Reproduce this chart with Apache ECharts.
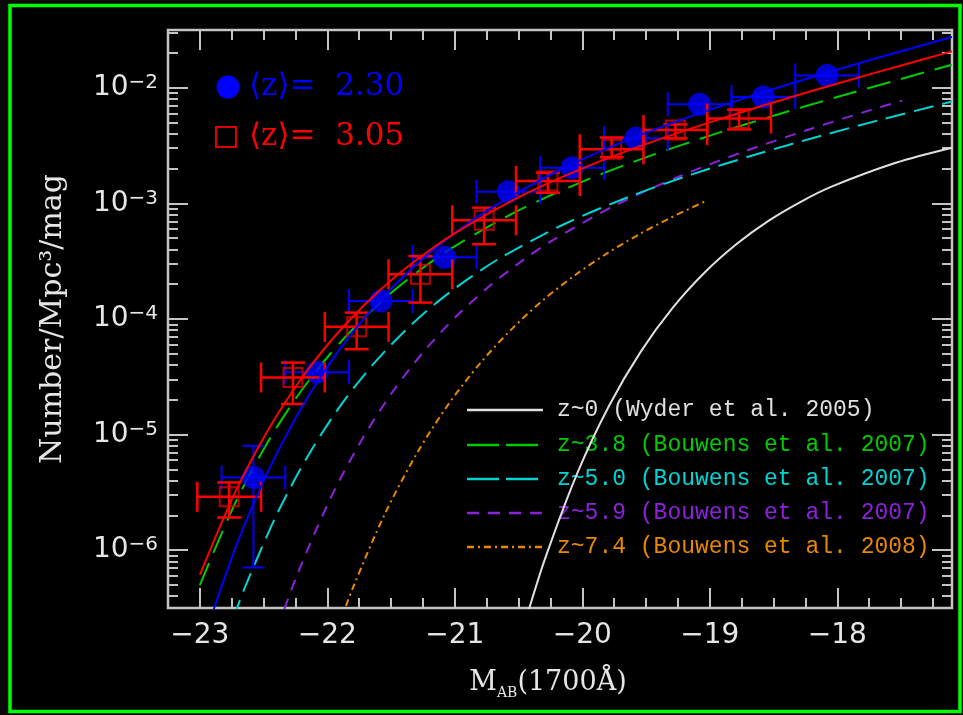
<!DOCTYPE html>
<html>
<head>
<meta charset="utf-8">
<script src="https://cdn.jsdelivr.net/npm/echarts@6/dist/echarts.min.js"></script>
<style>
html,body{margin:0;padding:0;background:#0b0907;}
#c{width:963px;height:715px;}
</style>
</head>
<body>
<div id="c"></div>
<script>
// ---------------- data ----------------
// <z> = 2.30 points : absolute magnitude, log10(phi), log10 y-error bounds
const blueM        = [-22.58, -22.08, -21.58, -21.08, -20.58, -20.08, -19.58, -19.08, -18.58, -18.08];
const blueLogPhi   = [-5.371, -4.460, -3.844, -3.466, -2.899, -2.691, -2.437, -2.143, -2.080, -1.893];
const blueLogLo    = [-6.149, -4.460, -3.844, -3.466, -2.899, -2.691, -2.437, -2.143, -2.080, -1.893];
const blueLogHi    = [-5.097, -4.460, -3.844, -3.466, -2.899, -2.691, -2.437, -2.143, -2.080, -1.893];
// <z> = 3.05 points
const redM         = [-22.77, -22.27, -21.77, -21.27, -20.77, -20.27, -19.77, -19.27, -18.77];
const redLogPhi    = [-5.538, -4.506, -4.068, -3.613, -3.146, -2.806, -2.532, -2.366, -2.266];
const redLogLo     = [-5.717, -4.736, -4.261, -3.858, -3.353, -2.908, -2.600, -2.437, -2.360];
const redLogHi     = [-5.414, -4.377, -3.945, -3.456, -3.037, -2.735, -2.430, -2.317, -2.190];
const magBinHalf   = 0.25;

// fitted luminosity-function curves
const redCurveM    = [-23.00, -22.72, -22.47, -22.22, -21.97, -21.72, -21.47, -21.22, -20.97, -20.47, -19.97, -19.47, -18.97, -18.47, -17.97, -17.47, -17.10];
const redCurveLog  = [-6.213, -5.491, -4.970, -4.541, -4.186, -3.889, -3.637, -3.423, -3.237, -2.931, -2.684, -2.474, -2.288, -2.116, -1.954, -1.798, -1.685];
const blueCurveM   = [-22.95, -22.70, -22.45, -22.20, -21.95, -21.70, -21.45, -21.20, -20.95, -20.70, -20.20, -19.70, -19.20, -18.70, -18.20, -17.70, -17.20, -17.10];
const blueCurveLog = [-6.703, -5.920, -5.284, -4.763, -4.334, -3.979, -3.682, -3.430, -3.216, -3.030, -2.724, -2.477, -2.267, -2.081, -1.909, -1.747, -1.591, -1.561];
const z38M         = [-23.00, -22.73, -22.48, -22.23, -21.98, -21.73, -21.48, -21.23, -20.98, -20.48, -19.98, -19.48, -18.98, -18.48, -17.98, -17.48, -17.10];
const z38Log       = [-6.303, -5.610, -5.089, -4.660, -4.305, -4.008, -3.756, -3.542, -3.356, -3.050, -2.803, -2.593, -2.407, -2.235, -2.073, -1.917, -1.801];
const z50M         = [-22.74, -22.64, -22.39, -22.14, -21.89, -21.64, -21.39, -21.14, -20.89, -20.64, -20.14, -19.64, -19.14, -18.64, -18.14, -17.64, -17.10];
const z50Log       = [-6.594, -6.304, -5.675, -5.161, -4.739, -4.391, -4.101, -3.856, -3.649, -3.470, -3.178, -2.945, -2.749, -2.577, -2.419, -2.271, -2.118];
const z59M         = [-22.39, -22.24, -21.99, -21.74, -21.49, -21.24, -20.99, -20.74, -20.49, -20.24, -19.74, -19.24, -18.74, -18.24, -17.74, -17.49];
const z59Log       = [-6.672, -6.222, -5.585, -5.063, -4.633, -4.277, -3.979, -3.726, -3.511, -3.324, -3.016, -2.767, -2.555, -2.367, -2.193, -2.111];
const z74M         = [-21.90, -21.80, -21.55, -21.30, -21.05, -20.80, -20.55, -20.30, -20.05, -19.80, -19.55, -19.30, -19.02];
const z74Log       = [-6.620, -6.326, -5.689, -5.167, -4.737, -4.381, -4.083, -3.830, -3.615, -3.428, -3.265, -3.120, -2.975];
const z0M          = [-20.44, -20.29, -20.04, -19.79, -19.54, -19.29, -19.04, -18.79, -18.54, -18.29, -18.04, -17.54, -17.10];
const z0Log        = [-6.590, -6.067, -5.335, -4.750, -4.280, -3.902, -3.598, -3.352, -3.151, -2.988, -2.853, -2.649, -2.519];

// axis ticks / labels
const xMajorTicks  = [-23, -22, -21, -20, -19, -18];
const yMajorExp    = [-6, -5, -4, -3, -2];
const legendTop    = ['\u27E8z\u27E9=  2.30', '\u27E8z\u27E9=  3.05'];
const legendCurves = ['z~0 (Wyder et al. 2005)', 'z~3.8 (Bouwens et al. 2007)', 'z~5.0 (Bouwens et al. 2007)', 'z~5.9 (Bouwens et al. 2007)', 'z~7.4 (Bouwens et al. 2008)'];

// ---------------- build ----------------
const P = v => Math.pow(10, v);
const pairs = (ms, ls) => ms.map((m, i) => [m, P(ls[i])]);

const xMinorTicks = [];
for (let k = -93; k <= -69; k++) { const v = k / 4; if (v > -23.25 && v < -17.1 && Math.abs(v - Math.round(v)) > 1e-9) xMinorTicks.push(v); }
const yMajorTicks = yMajorExp.map(e => P(e));
const yMinorTicks = [];
for (let n = -7; n <= -2; n++) for (let k = 2; k <= 9; k++) { const v = k * Math.pow(10, n); if (v > P(-6.5) && v < P(-1.5)) yMinorTicks.push(v); }

const FRAME = '#c4c4c4';
const LABEL = '#e6e6e6';
const COL = { blue: '#0000ff', red: '#ff0000', green: '#00cc00', cyan: '#00d4d4', purple: '#8c22dc', orange: '#e88800', white: '#e0e0e0' };
const XMIN = -23.25, XMAX = -17.1, YMIN = P(-6.5), YMAX = P(-1.5);

function errData(ms, ls, lo, hi) {
  return ms.map((m, i) => [m, P(ls[i]), m - magBinHalf, m + magBinHalf, P(lo[i]), P(hi[i])]);
}
function errRender(color, lw, capX, capY) {
  return function (params, api) {
    const m = api.value(0), f = api.value(1), mLo = api.value(2), mHi = api.value(3), fLo = api.value(4), fHi = api.value(5);
    const c = api.coord([m, f]);
    const a = api.coord([mLo, f]);
    const b = api.coord([mHi, f]);
    const st = () => ({ stroke: color, lineWidth: lw });
    const ch = [
      { type: 'line', shape: { x1: a[0], y1: c[1], x2: b[0], y2: c[1] }, style: st() },
      { type: 'line', shape: { x1: a[0], y1: c[1] - capX, x2: a[0], y2: c[1] + capX }, style: st() },
      { type: 'line', shape: { x1: b[0], y1: c[1] - capX, x2: b[0], y2: c[1] + capX }, style: st() }
    ];
    if (Math.abs(fLo - fHi) > 1e-15) {
      const lo = api.coord([m, fLo]);
      const hi = api.coord([m, fHi]);
      ch.push({ type: 'line', shape: { x1: c[0], y1: lo[1], x2: c[0], y2: hi[1] }, style: st() });
      ch.push({ type: 'line', shape: { x1: c[0] - capY, y1: lo[1], x2: c[0] + capY, y2: lo[1] }, style: st() });
      ch.push({ type: 'line', shape: { x1: c[0] - capY, y1: hi[1], x2: c[0] + capY, y2: hi[1] }, style: st() });
    }
    return { type: 'group', children: ch };
  };
}
function curve(name, ms, ls, color, dash, z) {
  return {
    name: name, type: 'line', data: pairs(ms, ls), showSymbol: false, symbol: 'none',
    smooth: 0.3, clip: true, z: z, silent: true,
    lineStyle: { color: color, width: 2, type: dash }
  };
}

function xAxisDef(pos, ticks, len, labels) {
  return {
    type: 'value', min: XMIN, max: XMAX, position: pos,
    axisLine: { show: false }, splitLine: { show: false },
    axisTick: { show: true, inside: true, length: len, customValues: ticks, lineStyle: { color: FRAME, width: 2 } },
    axisLabel: labels ? {
      show: true, customValues: ticks, margin: 14, color: LABEL, fontSize: 28, lineHeight: 28,
      fontFamily: 'DejaVu Sans', formatter: v => (v < 0 ? '\u2212' : '') + Math.abs(v)
    } : { show: false }
  };
}
function yAxisDef(pos, ticks, len, labels) {
  return {
    type: 'log', logBase: 10, min: YMIN, max: YMAX, position: pos,
    axisLine: { show: false }, splitLine: { show: false }, minorTick: { show: false },
    axisTick: { show: true, inside: true, length: len, customValues: ticks, lineStyle: { color: FRAME, width: 2 } },
    axisLabel: labels ? {
      show: true, customValues: ticks, margin: 10,
      formatter: v => '{a|10}{b|\u2212' + (-Math.round(Math.log10(v))) + '}',
      rich: {
        a: { fontSize: 28, fontFamily: 'DejaVu Sans', color: LABEL, lineHeight: 30 },
        b: { fontSize: 20, fontFamily: 'DejaVu Sans', color: LABEL, lineHeight: 14, verticalAlign: 'top' }
      }
    } : { show: false }
  };
}

const xAxes = [
  xAxisDef('bottom', xMajorTicks, 20, true),
  xAxisDef('bottom', xMinorTicks, 10, false),
  xAxisDef('top', xMajorTicks, 20, false),
  xAxisDef('top', xMinorTicks, 10, false)
];
xAxes[0].name = '{m|M}{s|AB}{m|(1700\u00C5)}';
xAxes[0].nameLocation = 'middle';
xAxes[0].nameGap = 58;
xAxes[0].nameTextStyle = {
  padding: [0, 24, 0, 0],
  rich: {
    m: { fontSize: 27, fontFamily: 'DejaVu Serif', color: LABEL, lineHeight: 34 },
    s: { fontSize: 14, fontFamily: 'DejaVu Serif', color: LABEL, lineHeight: 14, verticalAlign: 'bottom' }
  }
};
const yAxes = [
  yAxisDef('left', yMajorTicks, 20, true),
  yAxisDef('left', yMinorTicks, 10, false),
  yAxisDef('right', yMajorTicks, 20, false),
  yAxisDef('right', yMinorTicks, 10, false)
];
yAxes[0].name = 'Number/Mpc\u00B3/mag';
yAxes[0].nameLocation = 'middle';
yAxes[0].nameGap = 100;
yAxes[0].nameTextStyle = { fontSize: 30, fontFamily: 'DejaVu Serif', color: LABEL };

// legend rows (graphic)
const rowY = [410, 445, 479, 513, 547];
const rowCol = [COL.white, COL.green, COL.cyan, COL.purple, COL.orange];
const rowDash = [null, [32, 7], [32, 7], [12, 9], [7, 4, 2, 4]];
const graphics = [
  { type: 'rect', shape: { x: 10, y: 5.5, width: 950, height: 706 }, style: { fill: '#000', stroke: '#00ff00', lineWidth: 3.5 }, z: -10, silent: true },
  { type: 'circle', shape: { cx: 228, cy: 87, r: 11.5 }, style: { fill: COL.blue }, silent: true },
  { type: 'text', x: 249, y: 87, style: { text: legendTop[0], fill: COL.blue, font: '31px "DejaVu Serif"', verticalAlign: 'middle' }, silent: true },
  { type: 'rect', shape: { x: 216, y: 127, width: 20, height: 20 }, style: { fill: 'none', stroke: '#e00000', lineWidth: 2 }, silent: true },
  { type: 'text', x: 249, y: 137, style: { text: legendTop[1], fill: COL.red, font: '31px "DejaVu Serif"', verticalAlign: 'middle' }, silent: true }
];
legendCurves.forEach((t, i) => {
  const st = { stroke: rowCol[i], lineWidth: 2.5 };
  if (rowDash[i]) st.lineDash = rowDash[i];
  graphics.push({ type: 'line', shape: { x1: 467, y1: rowY[i], x2: 543, y2: rowY[i] }, style: st, silent: true });
  graphics.push({ type: 'text', x: 557, y: rowY[i], style: { text: t, fill: rowCol[i], font: '23px "Liberation Mono"', verticalAlign: 'middle' }, silent: true });
});

const option = {
  animation: false,
  backgroundColor: 'transparent',
  grid: { left: 168, top: 30, width: 784, height: 578, show: true, backgroundColor: '#000', borderColor: FRAME, borderWidth: 2.5 },
  xAxis: xAxes,
  yAxis: yAxes,
  graphic: graphics,
  series: [
    curve('z~0', z0M, z0Log, COL.white, 'solid', 2),
    curve('z~7.4', z74M, z74Log, COL.orange, [7, 4, 2, 4], 2),
    curve('z~5.9', z59M, z59Log, COL.purple, [11, 9], 2),
    curve('z~5.0', z50M, z50Log, COL.cyan, [20, 9], 2),
    curve('z~3.8', z38M, z38Log, COL.green, [24, 11], 2),
    { name: 'blue errors', type: 'custom', renderItem: errRender(COL.blue, 2, 12, 11), data: errData(blueM, blueLogPhi, blueLogLo, blueLogHi), encode: { x: [0, 2, 3], y: [1, 4, 5] }, z: 3, silent: true, clip: true },
    { name: '<z>=2.30', type: 'scatter', data: pairs(blueM, blueLogPhi), symbol: 'circle', symbolSize: 23, itemStyle: { color: COL.blue }, z: 3, silent: true },
    { name: 'red errors', type: 'custom', renderItem: errRender(COL.red, 2.5, 15, 12), data: errData(redM, redLogPhi, redLogLo, redLogHi), encode: { x: [0, 2, 3], y: [1, 4, 5] }, z: 4, silent: true, clip: true },
    { name: '<z>=3.05', type: 'scatter', data: pairs(redM, redLogPhi), symbol: 'rect', symbolSize: 19, itemStyle: { color: 'rgba(0,0,0,0)', borderColor: '#e00000', borderWidth: 2 }, z: 4, silent: true },
    curve('fit 2.30', blueCurveM, blueCurveLog, COL.blue, 'solid', 5),
    curve('fit 3.05', redCurveM, redCurveLog, COL.red, 'solid', 6)
  ]
};

const chart = echarts.init(document.getElementById('c'), null, { renderer: 'canvas', width: 963, height: 715 });
chart.setOption(option);
</script>
</body>
</html>
